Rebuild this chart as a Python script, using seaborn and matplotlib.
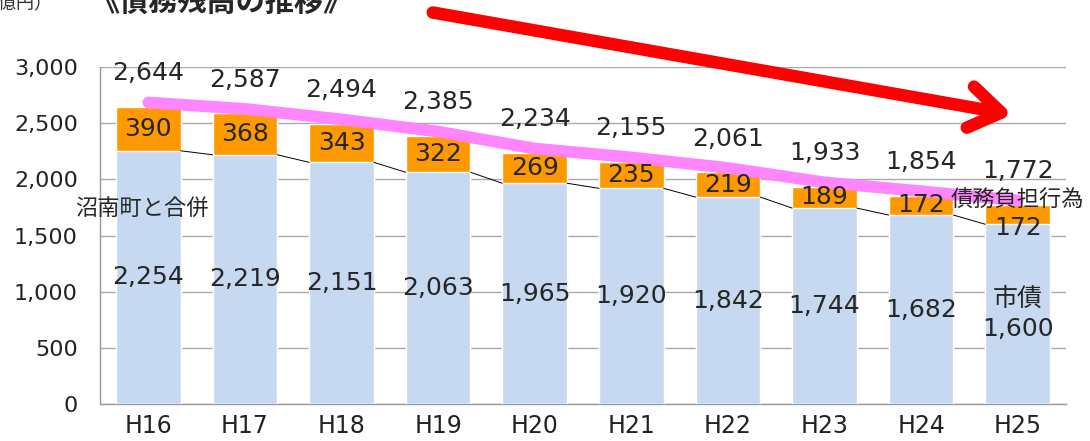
import matplotlib
matplotlib.use("Agg")
import matplotlib.pyplot as plt
import seaborn as sns
import pandas as pd
import numpy as np

years = ["H16", "H17", "H18", "H19", "H20", "H21", "H22", "H23", "H24", "H25"]
shisai = [2254, 2219, 2151, 2063, 1965, 1920, 1842, 1744, 1682, 1600]
saimu_futan = [390, 368, 343, 322, 269, 235, 219, 189, 172, 172]
totals = [2644, 2587, 2494, 2385, 2234, 2155, 2061, 1933, 1854, 1772]
yticks = [0, 500, 1000, 1500, 2000, 2500, 3000]

sns.set_theme(style="white")
plt.rcParams['font.family'] = ['DejaVu Sans', 'Noto Sans CJK JP']

df = pd.DataFrame({"year": years, "shisai": shisai, "futan": saimu_futan, "total": totals})

fig = plt.figure(figsize=(10.9, 4.41), dpi=100)
ax = fig.add_axes([100/1090, 1 - 404/441, (1066 - 100)/1090, (404 - 67)/441])

W = 0.67
sns.barplot(data=df, x="year", y="total", color="#FF9900", width=W, ax=ax,
            saturation=1, zorder=2)
sns.barplot(data=df, x="year", y="shisai", color="#C6D9F1", width=W, ax=ax,
            saturation=1, zorder=3)

ax.set_ylim(0, 3000)
ax.set_xlim(-0.5, len(years) - 0.5)
ax.set_yticks(yticks)
ax.set_yticklabels([f"{v:,}" for v in yticks], fontsize=16, color="#222222")
ax.set_xlabel("")
ax.set_ylabel("")
ax.tick_params(axis='x', which='major', length=0, labelsize=17, pad=7, labelcolor="#222222")
ax.set_xticks(np.arange(-0.5, len(years), 1.0), minor=True)
ax.tick_params(axis='x', which='minor', length=6, color="#999999", width=1, direction='out')
ax.tick_params(axis='y', length=6, color="#999999", width=1, direction='out', pad=10)
ax.grid(axis='y', color="#AAAAAA", linewidth=1, zorder=0)
ax.set_axisbelow(True)
for s in ["top", "right"]:
    ax.spines[s].set_visible(False)
for s in ["left", "bottom"]:
    ax.spines[s].set_color("#999999")
    ax.spines[s].set_linewidth(1)

# series lines between lower bar tops
for i in range(len(years) - 1):
    ax.plot([i + W/2, i + 1 - W/2], [shisai[i], shisai[i + 1]], color="black", lw=0.7, zorder=4)

# pink trend line
ax.plot(range(len(years)), [t + 40 for t in totals], color="#FF80FF", lw=8.5,
        solid_capstyle='round', solid_joinstyle='round', zorder=5, alpha=0.95)

fs = 18
for i in range(len(years)):
    ax.text(i, totals[i] + 300, f"{totals[i]:,}", ha='center', va='center', fontsize=fs, zorder=6)
    if i == len(years) - 1:
        ax.text(i, shisai[i] - 35, f"{saimu_futan[i]:,}", ha='center', va='center', fontsize=fs, zorder=6)
        ax.text(i, shisai[i] / 2, f"市債\n{shisai[i]:,}", ha='center', va='center', fontsize=fs,
                linespacing=1.3, zorder=6)
    else:
        ax.text(i, shisai[i] + saimu_futan[i] / 2, f"{saimu_futan[i]:,}", ha='center', va='center',
                fontsize=fs, zorder=6)
        ax.text(i, shisai[i] / 2, f"{shisai[i]:,}", ha='center', va='center', fontsize=fs, zorder=6)

ax.text(-0.76, 1745, "沼南町と合併", ha='left', va='center', fontsize=16,
        family=['Noto Sans CJK JP'], zorder=6, clip_on=False)
ax.text(9.0, 1810, "債務負担行為", ha='center', va='center', fontsize=16,
        family=['Noto Sans CJK JP'], zorder=7, clip_on=False)

# title and unit (partially cut off at top)
fig.text(222/1090, 1 - 3/441, "《債務残高の推移》", ha='center', va='center', fontsize=21,
         fontweight='bold', family=['Noto Sans CJK JP'])
fig.text(52/1090, 1 - 4/441, "（億円）", ha='right', va='center', fontsize=13, color="#333333",
         family=['Noto Sans CJK JP'])

# red arrow
fig.patches.append(matplotlib.patches.FancyArrowPatch(
    (430/1090, 1 - 12/441), (1015/1090, 1 - 115/441), transform=fig.transFigure,
    arrowstyle='->,head_length=0.75,head_width=0.5', mutation_scale=30, color="#FF0000",
    lw=9, capstyle='round', joinstyle='round', zorder=10))

fig.savefig("out.png", dpi=100)
